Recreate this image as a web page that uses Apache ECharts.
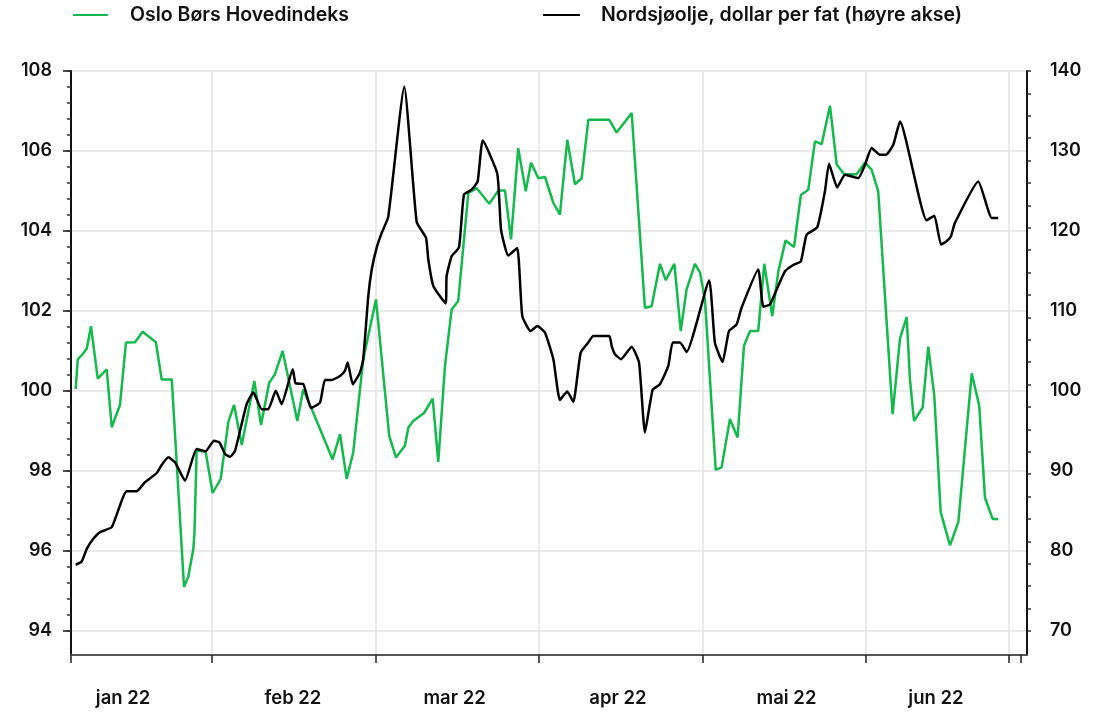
<!DOCTYPE html>
<html>
<head>
<meta charset="utf-8">
<script src="https://cdn.jsdelivr.net/npm/echarts@6/dist/echarts.min.js"></script>
<style>
html, body { margin: 0; padding: 0; background: #fff; }
#chart { width: 1106px; height: 713px; }
</style>
</head>
<body>
<div id="chart"></div>
<script>
// x = tid målt i måneder (1 = 1. feb, 2 = 1. mars osv.)
var hovedX = [0.166, 0.179, 0.209, 0.234, 0.260, 0.301, 0.356, 0.387, 0.437, 0.474,
    0.529, 0.576, 0.657, 0.692, 0.754, 0.829, 0.855, 0.886, 0.893, 0.906,
    0.961, 1.004, 1.053, 1.100, 1.135, 1.182, 1.259, 1.300, 1.350, 1.385,
    1.432, 1.522, 1.558, 1.610, 1.738, 1.783, 1.824, 1.864, 1.925, 2.003,
    2.084, 2.125, 2.180, 2.201, 2.231, 2.297, 2.350, 2.384, 2.425, 2.466,
    2.506, 2.568, 2.619, 2.696, 2.751, 2.792, 2.829, 2.873, 2.919, 2.951,
    2.996, 3.037, 3.088, 3.128, 3.173, 3.220, 3.261, 3.302, 3.430, 3.475,
    3.567, 3.648, 3.689, 3.740, 3.775, 3.828, 3.867, 3.903, 3.954, 3.985,
    4.015, 4.081, 4.117, 4.168, 4.215, 4.254, 4.291, 4.341, 4.378, 4.427,
    4.464, 4.508, 4.560, 4.602, 4.647, 4.688, 4.729, 4.780, 4.821, 4.867,
    4.943, 4.994, 5.035, 5.075, 5.163, 5.208, 5.249, 5.269, 5.294, 5.347,
    5.381, 5.418, 5.457, 5.514, 5.565, 5.647, 5.693, 5.728, 5.775, 5.809];
var hovedY = [100.05, 100.79, 100.92, 101.06, 101.62, 100.31, 100.54, 99.09, 99.65, 101.21,
    101.22, 101.48, 101.22, 100.29, 100.29, 95.10, 95.36, 96.05, 96.48, 98.51,
    98.48, 97.45, 97.80, 99.23, 99.65, 98.65, 100.25, 99.15, 100.21, 100.42,
    101.00, 99.25, 100.04, 99.55, 98.29, 98.92, 97.80, 98.47, 100.79, 102.29,
    98.88, 98.34, 98.63, 99.09, 99.25, 99.45, 99.81, 98.23, 100.63, 102.04,
    102.25, 104.95, 105.07, 104.68, 105.01, 105.01, 103.79, 106.07, 104.99, 105.71,
    105.32, 105.35, 104.70, 104.41, 106.28, 105.17, 105.32, 106.78, 106.78, 106.46,
    106.95, 102.08, 102.12, 103.18, 102.77, 103.18, 101.50, 102.54, 103.18, 102.96,
    102.29, 98.03, 98.09, 99.30, 98.84, 101.14, 101.50, 101.50, 103.18, 101.87,
    102.99, 103.76, 103.60, 104.90, 105.03, 106.24, 106.17, 107.13, 105.66, 105.42,
    105.42, 105.71, 105.53, 104.99, 99.42, 101.31, 101.85, 100.29, 99.25, 99.59,
    101.11, 99.88, 96.97, 96.14, 96.72, 100.44, 99.63, 97.33, 96.80, 96.80];

var oljeX = [0.166, 0.203, 0.234, 0.274, 0.315, 0.387, 0.478, 0.539, 0.590, 0.662,
    0.692, 0.733, 0.774, 0.835, 0.906, 0.961, 1.012, 1.045, 1.080, 1.110,
    1.141, 1.212, 1.253, 1.304, 1.344, 1.390, 1.426, 1.494, 1.512, 1.557,
    1.606, 1.661, 1.691, 1.732, 1.783, 1.813, 1.830, 1.861, 1.905, 1.925,
    1.956, 1.977, 2.007, 2.038, 2.078, 2.176, 2.252, 2.309, 2.323, 2.354,
    2.429, 2.435, 2.466, 2.511, 2.541, 2.588, 2.625, 2.656, 2.745, 2.768,
    2.812, 2.867, 2.898, 2.949, 2.990, 3.037, 3.088, 3.128, 3.173, 3.210,
    3.255, 3.301, 3.332, 3.430, 3.445, 3.465, 3.502, 3.567, 3.612, 3.648,
    3.695, 3.740, 3.791, 3.818, 3.862, 3.903, 4.041, 4.076, 4.123, 4.162,
    4.209, 4.239, 4.341, 4.372, 4.413, 4.454, 4.505, 4.555, 4.602, 4.637,
    4.702, 4.749, 4.774, 4.824, 4.872, 4.953, 4.994, 5.035, 5.086, 5.122,
    5.167, 5.208, 5.371, 5.418, 5.459, 5.493, 5.520, 5.544, 5.687, 5.769, 5.809];
var oljeY = [78.28, 78.69, 80.27, 81.52, 82.36, 82.98, 87.47, 87.47, 88.59, 89.75,
    90.75, 91.71, 91.08, 88.79, 92.74, 92.46, 93.78, 93.58, 92.12, 91.78,
    92.53, 98.35, 99.81, 97.73, 97.73, 100.02, 98.35, 102.72, 100.94, 100.90,
    97.86, 98.57, 101.38, 101.38, 101.88, 102.51, 103.55, 100.85, 102.31, 103.97,
    111.86, 115.19, 117.89, 119.76, 121.76, 138.04, 121.13, 119.14, 116.43, 113.11,
    110.95, 114.35, 116.85, 117.97, 124.54, 125.16, 126.20, 131.31, 127.16, 120.17,
    116.93, 117.89, 109.36, 107.49, 108.12, 107.29, 103.97, 98.89, 99.94, 98.64,
    104.80, 106.05, 106.87, 106.87, 105.62, 104.59, 103.97, 105.54, 103.55, 94.82,
    100.14, 100.85, 103.13, 106.05, 106.05, 104.88, 113.82, 106.05, 103.63, 107.49,
    108.33, 110.41, 115.19, 110.54, 110.82, 112.69, 114.97, 115.75, 116.22, 119.55,
    120.46, 124.95, 128.40, 125.45, 127.03, 126.62, 128.28, 130.36, 129.53, 129.53,
    130.77, 133.68, 121.34, 121.92, 118.30, 118.72, 119.34, 121.01, 126.20, 121.63, 121.63];

var monthLabels = ['jan 22', 'feb 22', 'mar 22', 'apr 22', 'mai 22', 'jun 22'];
var monthLabelPos = [0.456, 1.495, 2.484, 3.483, 4.514, 5.428];
var monthTicks = [0.1376, 1, 2, 3, 4, 5, 5.875, 5.948];
var monthGrid = [1, 2, 3, 4, 5, 5.875];
var leftLabels = [94, 96, 98, 100, 102, 104, 106, 108];
var rightLabels = [70, 80, 90, 100, 110, 120, 130, 140];

var XMIN = 0.1376, XMAX = 5.985;

var leftMinor = [];
for (var i = 0; i <= 35; i++) leftMinor.push(Math.round((94 + i * 0.4) * 100) / 100);
var rightMinor = [];
for (var j = 0; j <= 25; j++) rightMinor.push(Math.round((70 + j * 2.8) * 100) / 100);

function pairs(xs, ys) {
    return xs.map(function (x, k) { return [x, ys[k]]; });
}

var font = 'Inter, "Noto Sans", sans-serif';
var txt = { fontFamily: font, fontSize: 18, fontWeight: 600, color: '#111' };
var legendTxt = { fontFamily: font, fontSize: 19.5, fontWeight: 600, color: '#111' };
var gridLine = { color: '#e3e3e3', width: 1.5 };

var myChart = echarts.init(document.getElementById('chart'));
var option = {
    animation: false,
    legend: [
        {
            left: 73, top: 5, padding: 0, icon: 'rect', itemWidth: 35, itemHeight: 2,
            data: ['Oslo Børs Hovedindeks'],
            textStyle: Object.assign({ padding: [0, 0, 0, 17] }, legendTxt)
        },
        {
            left: 543, top: 5, padding: 0, icon: 'rect', itemWidth: 37, itemHeight: 2,
            data: ['Nordsjøolje, dollar per fat (høyre akse)'],
            textStyle: Object.assign({ padding: [0, 0, 0, 16] }, legendTxt)
        }
    ],
    grid: { left: 71, right: 79, top: 71, bottom: 58, outerBoundsMode: 'none' },
    xAxis: [
        {
            type: 'value', min: XMIN, max: XMAX, position: 'bottom',
            axisLine: { show: true, lineStyle: { color: '#555', width: 2 } },
            axisTick: { show: true, customValues: monthTicks, length: 8, lineStyle: { color: '#222', width: 1.5 } },
            axisLabel: {
                customValues: monthLabelPos, margin: 34,
                fontFamily: font, fontSize: 18.5, fontWeight: 600, color: '#111',
                formatter: function (v) {
                    var best = 0;
                    for (var k = 1; k < monthLabelPos.length; k++) {
                        if (Math.abs(monthLabelPos[k] - v) < Math.abs(monthLabelPos[best] - v)) best = k;
                    }
                    return monthLabels[best];
                }
            },
            splitLine: { show: false }
        },
        {
            type: 'value', min: XMIN, max: XMAX, position: 'bottom',
            axisLine: { show: false },
            axisTick: { show: false, customValues: monthGrid },
            axisLabel: { show: false },
            splitLine: { show: true, lineStyle: gridLine }
        }
    ],
    yAxis: [
        {
            type: 'value', min: 93.4, max: 108, position: 'left',
            axisLine: { show: true, lineStyle: { color: '#111', width: 2 } },
            axisTick: { show: true, customValues: leftLabels, length: 8, lineStyle: { color: '#111', width: 1.5 } },
            axisLabel: Object.assign({ customValues: leftLabels, margin: 19 }, txt),
            splitLine: { show: true, lineStyle: gridLine }
        },
        {
            type: 'value', min: 67, max: 140, position: 'right',
            axisLine: { show: true, lineStyle: { color: '#111', width: 2 } },
            axisTick: { show: false },
            axisLabel: Object.assign({ customValues: rightLabels, margin: 23 }, txt),
            splitLine: { show: false }
        },
        {
            type: 'value', min: 93.4, max: 108, position: 'left',
            axisLine: { show: false },
            axisTick: { show: true, customValues: leftMinor, length: 4, lineStyle: { color: '#333', width: 1.5 } },
            axisLabel: { show: false },
            splitLine: { show: false }
        },
        {
            type: 'value', min: 67, max: 140, position: 'right',
            axisLine: { show: false },
            axisTick: { show: true, customValues: rightMinor, length: 4, lineStyle: { color: '#333', width: 1.5 } },
            axisLabel: { show: false },
            splitLine: { show: false }
        }
    ],
    series: [
        {
            name: 'Oslo Børs Hovedindeks',
            type: 'line', xAxisIndex: 0, yAxisIndex: 0,
            showSymbol: false, symbol: 'none',
            color: '#15b84c',
            lineStyle: { width: 2.5, color: '#15b84c' },
            data: pairs(hovedX, hovedY)
        },
        {
            name: 'Nordsjøolje, dollar per fat (høyre akse)',
            type: 'line', xAxisIndex: 0, yAxisIndex: 1,
            showSymbol: false, symbol: 'none',
            smooth: 0.15,
            color: '#000',
            lineStyle: { width: 2.5, color: '#000' },
            data: pairs(oljeX, oljeY)
        }
    ]
};
myChart.setOption(option);
</script>
</body>
</html>
